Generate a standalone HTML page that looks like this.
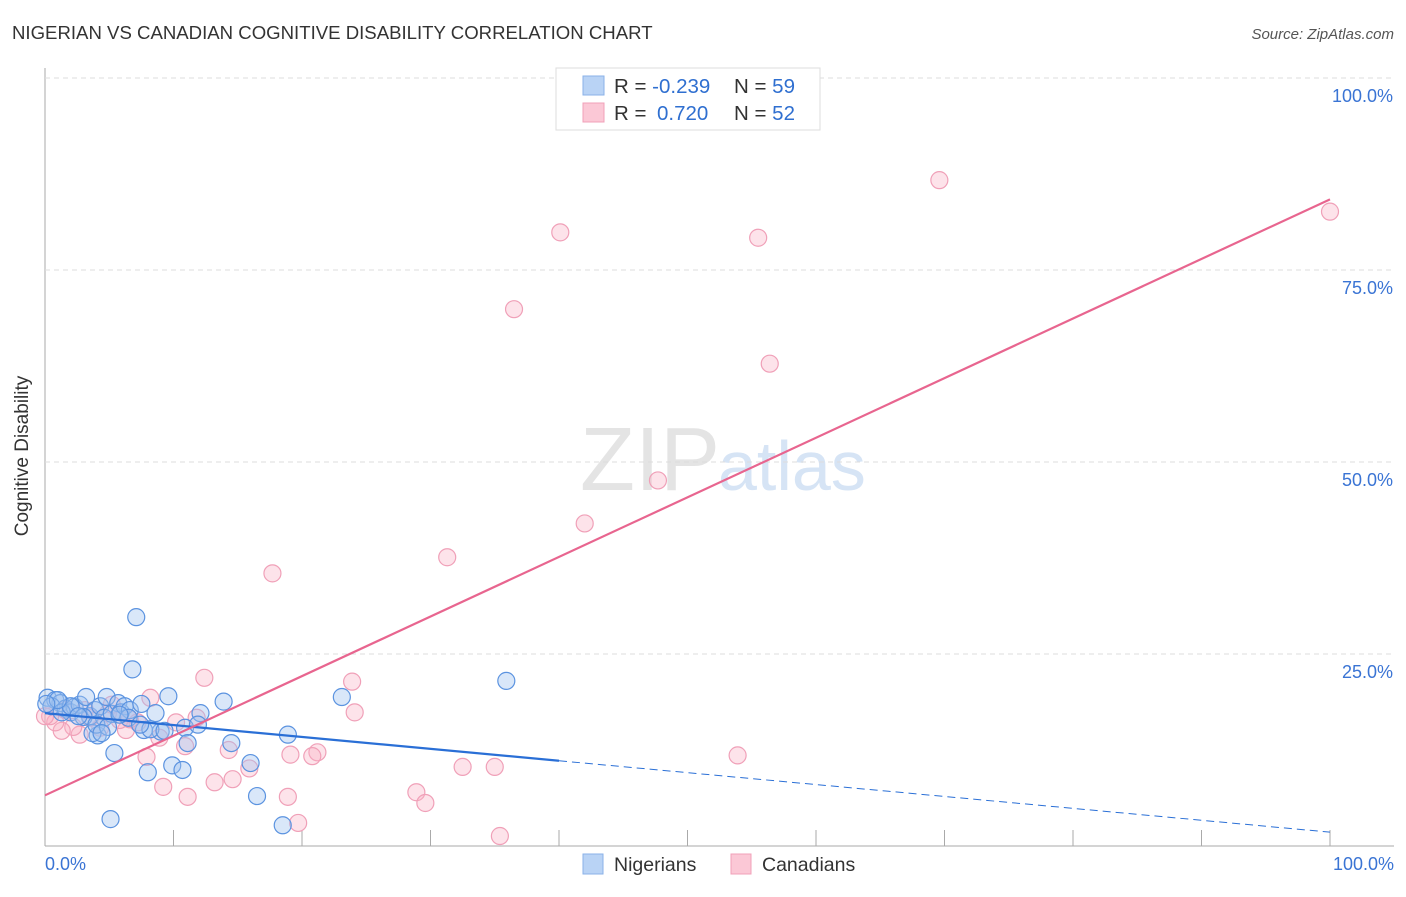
<!DOCTYPE html>
<html><head><meta charset="utf-8"><style>
body{margin:0;background:#fff;font-family:"Liberation Sans",sans-serif}
svg text{font-family:"Liberation Sans",sans-serif}
</style></head><body>
<svg id="c" width="1406" height="892">
<text x="12" y="39" font-size="18.6" fill="#333">NIGERIAN VS CANADIAN COGNITIVE DISABILITY CORRELATION CHART</text>
<text x="1394" y="39" font-size="15" fill="#555" text-anchor="end" font-style="italic">Source: ZipAtlas.com</text>
<text x="720" y="490" font-size="90" fill="#e4e4e4" font-family="Liberation Serif" text-anchor="end">ZIP</text>
<text x="718" y="490" font-size="70" fill="#d6e4f5">atlas</text>
<g id="grid"></g>
<g id="pts"></g>
<g id="lines"></g>
<text x="28" y="456" font-size="19" fill="#333" transform="rotate(-90 28 456)" text-anchor="middle">Cognitive Disability</text>
<g>
<rect x="556" y="68" width="264" height="62" fill="#fff" stroke="#ddd"/>
<rect x="583" y="76" width="21" height="19" fill="#b9d3f5" stroke="#8ab2e8"/>
<rect x="583" y="103" width="21" height="19" fill="#fbc8d6" stroke="#f0a0b8"/>
<text x="614" y="93" font-size="20.5" fill="#333">R = <tspan fill="#2f6fd0">-0.239</tspan><tspan x="734">N = </tspan><tspan fill="#2f6fd0">59</tspan></text>
<text x="614" y="120" font-size="20.5" fill="#333">R = <tspan fill="#2f6fd0" x="657">0.720</tspan><tspan x="734">N = </tspan><tspan fill="#2f6fd0">52</tspan></text>
</g>
<g>
<rect x="583" y="854" width="20" height="20" fill="#b9d3f5" stroke="#8ab2e8"/>
<text x="614" y="871" font-size="19.5" fill="#333">Nigerians</text>
<rect x="731" y="854" width="20" height="20" fill="#fbc8d6" stroke="#f0a0b8"/>
<text x="762" y="871" font-size="19.5" fill="#333">Canadians</text>
</g>
</svg>
<script>
const yTicks=[25,50,75,100];
const yTickLabels=["25.0%","50.0%","75.0%","100.0%"];
const blueX=[0.2,0.8,1.2,0.5,1.6,2.0,2.3,2.7,3.2,3.5,3.9,4.3,4.6,4.8,5.2,5.7,5.9,6.2,6.6,6.5,7.1,6.8,7.5,7.7,8.0,8.6,9.0,9.6,9.9,10.7,10.9,11.1,12.1,11.9,5.4,5.1,4.1,3.7,13.9,14.5,16.0,16.5,18.5,18.9,23.1,35.9,1.3,2.0,3.0,4.0,4.9,5.8,8.2,9.3,2.6,1.0,0.1,4.4,7.4];
const blueY=[19.3,19.0,18.6,18.2,17.9,17.4,18.1,18.4,19.4,16.9,17.7,18.2,16.7,19.4,17.2,18.6,17.4,18.2,17.7,16.7,29.8,23.0,18.5,15.1,9.6,17.3,14.9,19.5,10.5,9.9,15.4,13.4,17.3,15.8,12.1,3.5,14.4,14.7,18.8,13.4,10.8,6.5,2.7,14.5,19.4,21.5,17.4,18.2,16.8,15.8,15.5,17.1,15.2,15.0,16.9,19.0,18.5,14.7,15.8];
const pinkX=[100,69.6,40.1,55.5,36.5,56.4,47.7,42.0,31.3,17.7,23.9,24.1,12.4,8.2,53.9,32.5,35.0,28.9,29.6,35.4,19.7,18.9,21.2,20.8,19.1,15.9,14.6,14.3,13.2,11.1,9.2,10.9,11.8,10.2,8.9,7.2,6.3,5.8,4.9,4.3,3.5,2.7,2.2,1.3,0.8,0.4,1.6,3.1,5.2,6.6,7.9,0];
const pinkY=[82.6,86.7,79.9,79.2,69.9,62.8,47.6,42.0,37.6,35.5,21.4,17.4,21.9,19.3,11.8,10.3,10.3,7.0,5.6,1.3,3.0,6.4,12.2,11.7,11.9,10.1,8.7,12.5,8.3,6.4,7.7,13.0,16.7,16.1,14.1,16.1,15.1,16.4,17.3,15.4,16.7,14.5,15.5,15.0,16.1,16.9,17.7,17.7,18.4,16.5,11.6,16.9];
const blueLine=[17.3,1.8];
const pinkLine=[6.6,84.2];
const blueSolidEnd=40;
const X=v=>45+v*12.85, Y=v=>846-v*7.68;
const ns="http://www.w3.org/2000/svg";
function mk(t,a,p){const e=document.createElementNS(ns,t);for(const k in a)e.setAttribute(k,a[k]);p.appendChild(e);return e;}
const g=document.getElementById('grid');
const ax=mk('line',{x1:45,y1:68,x2:45,y2:846,stroke:'#aaa'},g);


const bx=mk('line',{x1:45,y1:846,x2:1394,y2:846,stroke:'#aaa'},g);


yTicks.forEach((t,i)=>{
 const l=mk('line',{x1:45,y1:Y(t),x2:1394,y2:Y(t),stroke:'#ddd','stroke-dasharray':'5,4'},g);
 
 
 const tx=mk('text',{x:1393,y:Y(t)+24,'font-size':18,fill:'#3a74d4','text-anchor':'end'},g);
 tx.textContent=yTickLabels[i];
 
 
});
for(let i=1;i<=10;i++){const l=mk('line',{x1:X(i*10),y1:830,x2:X(i*10),y2:846,stroke:'#aaa'},g);
 
 }
const x0=mk('text',{x:45,y:870,'font-size':18,fill:'#3a74d4'},g);x0.textContent='0.0%';


const x1=mk('text',{x:1394,y:870,'font-size':18,fill:'#3a74d4','text-anchor':'end'},g);x1.textContent='100.0%';


const P=document.getElementById('pts');
pinkX.forEach((v,i)=>{const c=mk('circle',{cx:X(v),cy:Y(pinkY[i]),r:8.5,fill:'rgba(248,175,195,0.35)',stroke:'#f0a0b8','stroke-width':1.2},P);
 
 });
blueX.forEach((v,i)=>{const c=mk('circle',{cx:X(v),cy:Y(blueY[i]),r:8.5,fill:'rgba(160,196,240,0.4)',stroke:'#5b93e0','stroke-width':1.2},P);
 
 });
const L=document.getElementById('lines');
const by=x=>blueLine[0]+(blueLine[1]-blueLine[0])*x/100;
const b1=mk('line',{x1:X(0),y1:Y(by(0)),x2:X(blueSolidEnd),y2:Y(by(blueSolidEnd)),stroke:'#2a6fd6','stroke-width':2.2},L);


const b2=mk('line',{x1:X(blueSolidEnd),y1:Y(by(blueSolidEnd)),x2:X(100),y2:Y(by(100)),stroke:'#2a6fd6','stroke-width':1,'stroke-dasharray':'8,5'},L);


const p1=mk('line',{x1:X(0),y1:Y(pinkLine[0]),x2:X(100),y2:Y(pinkLine[1]),stroke:'#e8658f','stroke-width':2.2},L);


</script>
</body></html>
